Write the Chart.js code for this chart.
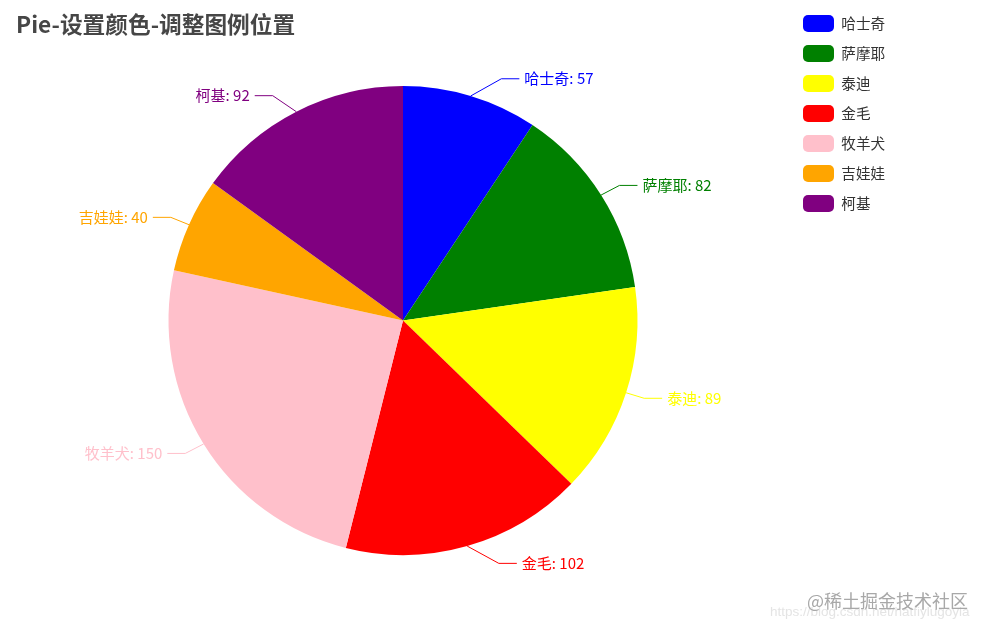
<!DOCTYPE html>
<html>
<head>
<meta charset="utf-8">
<script src="https://cdn.jsdelivr.net/npm/chart.js@4.4.1/dist/chart.umd.min.js"></script>
<style>
html,body{margin:0;padding:0;background:#fff;}
#wrap{position:relative;width:988px;height:630px;overflow:hidden;}
#c{position:absolute;left:0;top:0;}
.wm1{position:absolute;left:770px;top:604px;font:13.5px "Liberation Sans",Arial,sans-serif;color:#e4e4e4;white-space:nowrap;}
.wm2{position:absolute;left:807px;top:587px;font:18px "Noto Sans CJK SC",sans-serif;color:#a8a8a8;white-space:nowrap;}
</style>
</head>
<body>
<div id="wrap">
<canvas id="c"></canvas>
<div class="wm1">https://blog.csdn.net/hatfiylugoyla</div>
<div class="wm2">@稀土掘金技术社区</div>
</div>
<script>
const titleText = 'Pie-设置颜色-调整图例位置';
const categories = ['哈士奇', '萨摩耶', '泰迪', '金毛', '牧羊犬', '吉娃娃', '柯基'];
const values = [57, 82, 89, 102, 150, 40, 92];
const colors = ['blue', 'green', 'yellow', 'red', 'pink', 'orange', 'purple'];

const FONT = '"Noto Sans CJK SC", "Microsoft YaHei", sans-serif';

const outerLabels = {
  id: 'outerLabels',
  afterDatasetsDraw(chart) {
    const ctx = chart.ctx;
    const meta = chart.getDatasetMeta(0);
    const ds = chart.data.datasets[0];
    ctx.save();
    ctx.font = '15px ' + FONT;
    ctx.textBaseline = 'middle';
    ctx.lineWidth = 1;
    meta.data.forEach((arc, i) => {
      const p = arc.getProps(['x', 'y', 'startAngle', 'endAngle', 'outerRadius'], true);
      const a = (p.startAngle + p.endAngle) / 2;
      const dx = Math.cos(a), dy = Math.sin(a);
      const sgn = dx < 0 ? -1 : 1;
      const r = p.outerRadius;
      const x1 = p.x + r * dx, y1 = p.y + r * dy;
      const rA = r + 18, rB = r + 28;
      const y2 = p.y + rA * dy;
      const x2 = p.x + sgn * rA * Math.sqrt(Math.max(0, 1 - Math.pow((y2 - p.y) / rB, 2)));
      const x3 = x2 + sgn * 18;
      const col = ds.backgroundColor[i];
      ctx.strokeStyle = col;
      ctx.fillStyle = col;
      ctx.beginPath();
      ctx.moveTo(x1, y1);
      ctx.lineTo(x2, y2);
      ctx.lineTo(x3, y2);
      ctx.stroke();
      ctx.textAlign = sgn < 0 ? 'right' : 'left';
      ctx.fillText(chart.data.labels[i] + ': ' + ds.data[i], x3 + sgn * 5, y2);
    });
    ctx.restore();
  }
};

new Chart(document.getElementById('c'), {
  type: 'pie',
  data: {
    labels: categories,
    datasets: [{
      data: values,
      backgroundColor: colors,
      borderWidth: 0
    }]
  },
  options: {
    responsive: true,
    maintainAspectRatio: false,
    animation: false,
    layout: { padding: { top: 2, left: 16, right: 98, bottom: 75 } },
    plugins: {
      tooltip: { enabled: false },
      title: {
        display: true,
        text: titleText,
        align: 'start',
        fullSize: false,
        color: '#464646',
        font: { size: 22.7, weight: 'bold', family: FONT, lineHeight: 1.2 },
        padding: { top: 8.4, bottom: 48.4 }
      },
      legend: {
        display: true,
        position: 'right',
        align: 'start',
        maxWidth: 100,
        labels: {
          boxWidth: 31,
          boxHeight: 17,
          padding: 13,
          useBorderRadius: true,
          borderRadius: 5,
          color: '#333',
          font: { size: 14.6, family: FONT },
          generateLabels(chart) {
            const ds = chart.data.datasets[0];
            return chart.data.labels.map((l, i) => ({
              text: l,
              fillStyle: ds.backgroundColor[i],
              strokeStyle: ds.backgroundColor[i],
              lineWidth: 0,
              borderRadius: 5,
              fontColor: '#333',
              hidden: !chart.getDataVisibility(i),
              index: i
            }));
          }
        }
      }
    }
  },
  plugins: [outerLabels]
});
</script>
</body>
</html>
